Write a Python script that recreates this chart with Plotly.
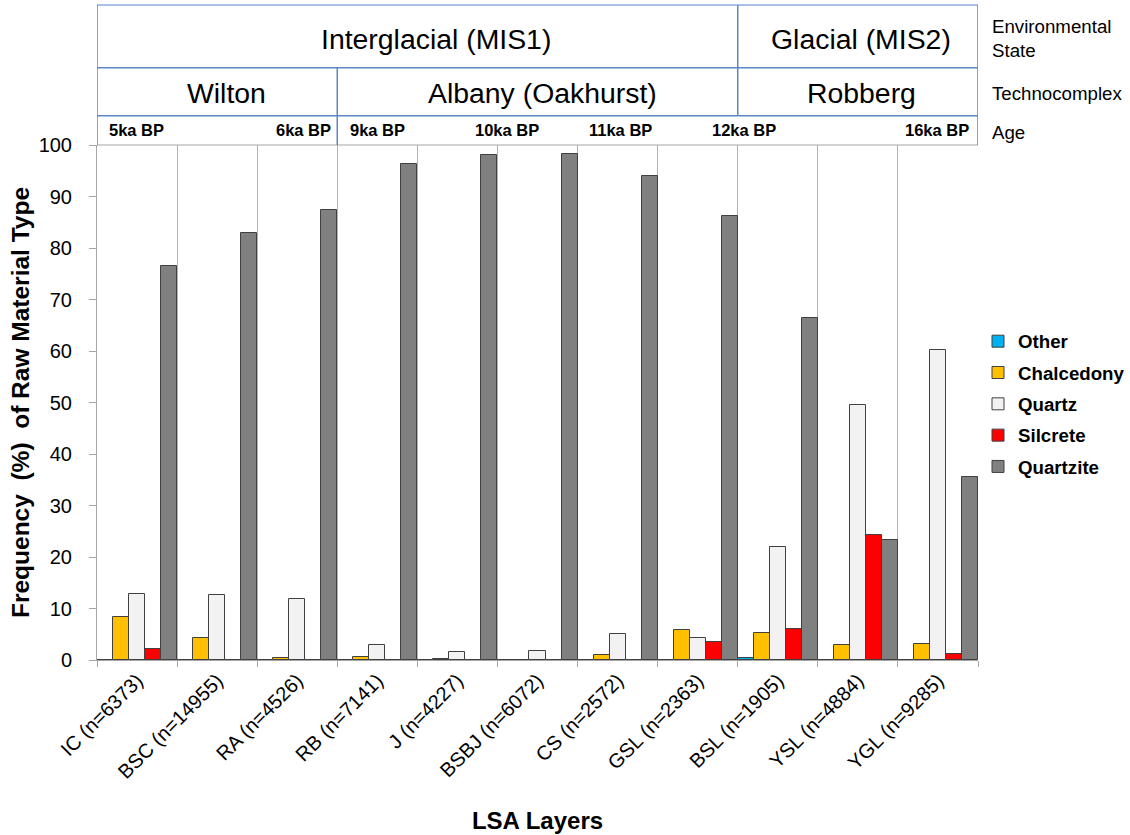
import plotly.graph_objects as go

# LSA layers (sample size in brackets)
layers = ["IC (n=6373)", "BSC (n=14955)", "RA (n=4526)", "RB (n=7141)", "J (n=4227)",
          "BSBJ (n=6072)", "CS (n=2572)", "GSL (n=2363)", "BSL (n=1905)",
          "YSL (n=4884)", "YGL (n=9285)"]

# Frequency (%) of each raw material per layer
other = [0.05, 0.05, 0.05, 0.05, 0.05, 0, 0.05, 0, 0.3, 0, 0.05]
chalcedony = [8.3, 4.3, 0.45, 0.6, 0.25, 0.05, 0.9, 5.8, 5.2, 2.9, 3.1]
quartz = [12.8, 12.6, 11.8, 2.85, 1.55, 1.8, 5.0, 4.3, 22.0, 49.6, 60.1]
silcrete = [2.2, 0.05, 0.05, 0.05, 0, 0.05, 0.05, 3.5, 6.1, 24.3, 1.2]
quartzite = [76.6, 83.0, 87.4, 96.4, 98.1, 98.3, 94.0, 86.3, 66.4, 23.3, 35.5]

# Header table: environmental state, technocomplex and age, spans in layers
env_states = ["Interglacial (MIS1)", "Glacial (MIS2)"]
env_spans = [8, 3]
technocomplexes = ["Wilton", "Albany (Oakhurst)", "Robberg"]
techno_spans = [3, 5, 3]
ages = ["5ka BP", "6ka BP", "9ka BP", "10ka BP", "11ka BP", "12ka BP", "16ka BP"]
age_at = [-0.5, 2.5, 2.5, 4.62, 6.04, 7.58, 10.5]
row_titles = ["Environmental<br>State", "Technocomplex", "Age"]

FONT = "Liberation Sans, Arial, sans-serif"
series = [
    ("Other", other, "#00B0F0"),
    ("Chalcedony", chalcedony, "#FFC000"),
    ("Quartz", quartz, "#F2F2F2"),
    ("Silcrete", silcrete, "#FF0000"),
    ("Quartzite", quartzite, "#808080"),
]

fig = go.Figure()
for name, vals, col in series:
    fig.add_trace(go.Bar(
        x=layers, y=vals, name=name, legendgroup=name,
        marker=dict(color=col, line=dict(color="#404040", width=1)),
    ))

# plot area geometry (px) used to place the header rows in paper units
M_L, M_R, M_T, M_B = 97, 152, 145, 175
W, H = 1130, 835
PH = H - M_T - M_B


def py(px):
    return (H - M_B - px) / PH


top, r1, r2 = py(5), py(67.7), py(115.7)
BLUE = "#5B87C6"
shapes = []
# horizontal rules of the header table
shapes.append(dict(type="line", xref="x", yref="paper", x0=-0.5, x1=10.5, y0=top, y1=top,
                   line=dict(color="#8EAEDD", width=1.5)))
for yy in (r1, r2):
    shapes.append(dict(type="line", xref="x", yref="paper", x0=-0.5, x1=10.5, y0=yy, y1=yy,
                       line=dict(color=BLUE, width=1.5)))
shapes.append(dict(type="line", xref="x", yref="paper", x0=-0.5, x1=10.5, y0=1, y1=1,
                   line=dict(color="#A6A6A6", width=1)))
# outer verticals
for xx in (-0.5, 10.5):
    shapes.append(dict(type="line", xref="x", yref="paper", x0=xx, x1=xx, y0=1, y1=top,
                       line=dict(color=BLUE, width=1.5)))

annotations = []
HEAD = dict(family=FONT, size=28.4, color="#000000")
# environmental state row
start = -0.5
env_shift = [19, 3]
for k, (lab, span) in enumerate(zip(env_states, env_spans)):
    end = start + span
    annotations.append(dict(text=lab, x=(start + end) / 2, y=(top + r1) / 2, xref="x", yref="paper",
                            showarrow=False, xshift=env_shift[k], yshift=-3,
                            xanchor="center", yanchor="middle", font=HEAD))
    if k < len(env_states) - 1:
        shapes.append(dict(type="line", xref="x", yref="paper", x0=end, x1=end, y0=r2, y1=top,
                           line=dict(color=BLUE, width=1.5)))
    start = end

# technocomplex row
start = -0.5
techno_shift = [9, 5, 4]
for k, (lab, span) in enumerate(zip(technocomplexes, techno_spans)):
    end = start + span
    annotations.append(dict(text=lab, x=(start + end) / 2, y=(r1 + r2) / 2, xref="x", yref="paper",
                            showarrow=False, xshift=techno_shift[k], yshift=-1,
                            xanchor="center", yanchor="middle", font=HEAD))
    if k == 0:
        shapes.append(dict(type="line", xref="x", yref="paper", x0=end, x1=end, y0=1, y1=r1,
                           line=dict(color=BLUE, width=1.5)))
    start = end

# age row
age_anchor = ["left", "right", "left", "center", "center", "center", "right"]
age_shift = [10, -4, 11, 0, 0, 0, -7]
for lab, xx, anc, sh in zip(ages, age_at, age_anchor, age_shift):
    annotations.append(dict(text=lab, x=xx, y=(r2 + 1) / 2, xref="x", yref="paper",
                            showarrow=False, xanchor=anc, yanchor="middle", xshift=sh,
                            font=dict(family=FONT, size=16.5, color="#000000", weight="bold")))

# row captions to the right of the table
for lab, yy in zip(row_titles, [(top + r1) / 2, (r1 + r2) / 2, (r2 + 1) / 2]):
    annotations.append(dict(text=lab, x=1, y=yy, xref="paper", yref="paper", xanchor="left",
                            yanchor="middle", align="left", showarrow=False, xshift=12, yshift=-2,
                            font=dict(family=FONT, size=18.7, color="#000000")))

fig.update_layout(
    width=W, height=H,
    margin=dict(l=M_L, r=M_R, t=M_T, b=M_B, autoexpand=False),
    paper_bgcolor="white", plot_bgcolor="white",
    barmode="group", bargap=0, bargroupgap=0,
    font=dict(family=FONT, color="#000000"),
    shapes=shapes, annotations=annotations,
    legend=dict(x=1.0, y=0.497, xanchor="left", yanchor="middle", xref="paper", yref="paper",
                font=dict(family=FONT, size=18.7, color="#000000", weight="bold"),
                tracegroupgap=4, itemwidth=30, bgcolor="rgba(0,0,0,0)"),
    xaxis=dict(
        type="category", tickson="boundaries", tickangle=-45,
        showgrid=True, gridcolor="#B3B3B3", gridwidth=1,
        showline=True, linecolor="#A6A6A6", linewidth=1,
        ticks="outside", ticklen=6, tickcolor="#A6A6A6",
        tickfont=dict(family=FONT, size=20, color="#000000"),
        title=dict(text="LSA Layers", font=dict(family=FONT, size=24, color="#000000", weight="bold"),
                   standoff=30),
        range=[-0.5, 10.5],
    ),
    yaxis=dict(
        range=[0, 100], dtick=10, tick0=0,
        showgrid=False, zeroline=False,
        showline=True, linecolor="#A6A6A6", linewidth=1,
        ticks="outside", ticklen=7, tickcolor="#A6A6A6",
        ticklabelstandoff=13,
        tickfont=dict(family=FONT, size=20, color="#000000"),
        title=dict(text="Frequency  (%)  of Raw Material Type",
                   font=dict(family=FONT, size=24.5, color="#000000", weight="bold"), standoff=2),
    ),
)

fig.write_html("out.html")
